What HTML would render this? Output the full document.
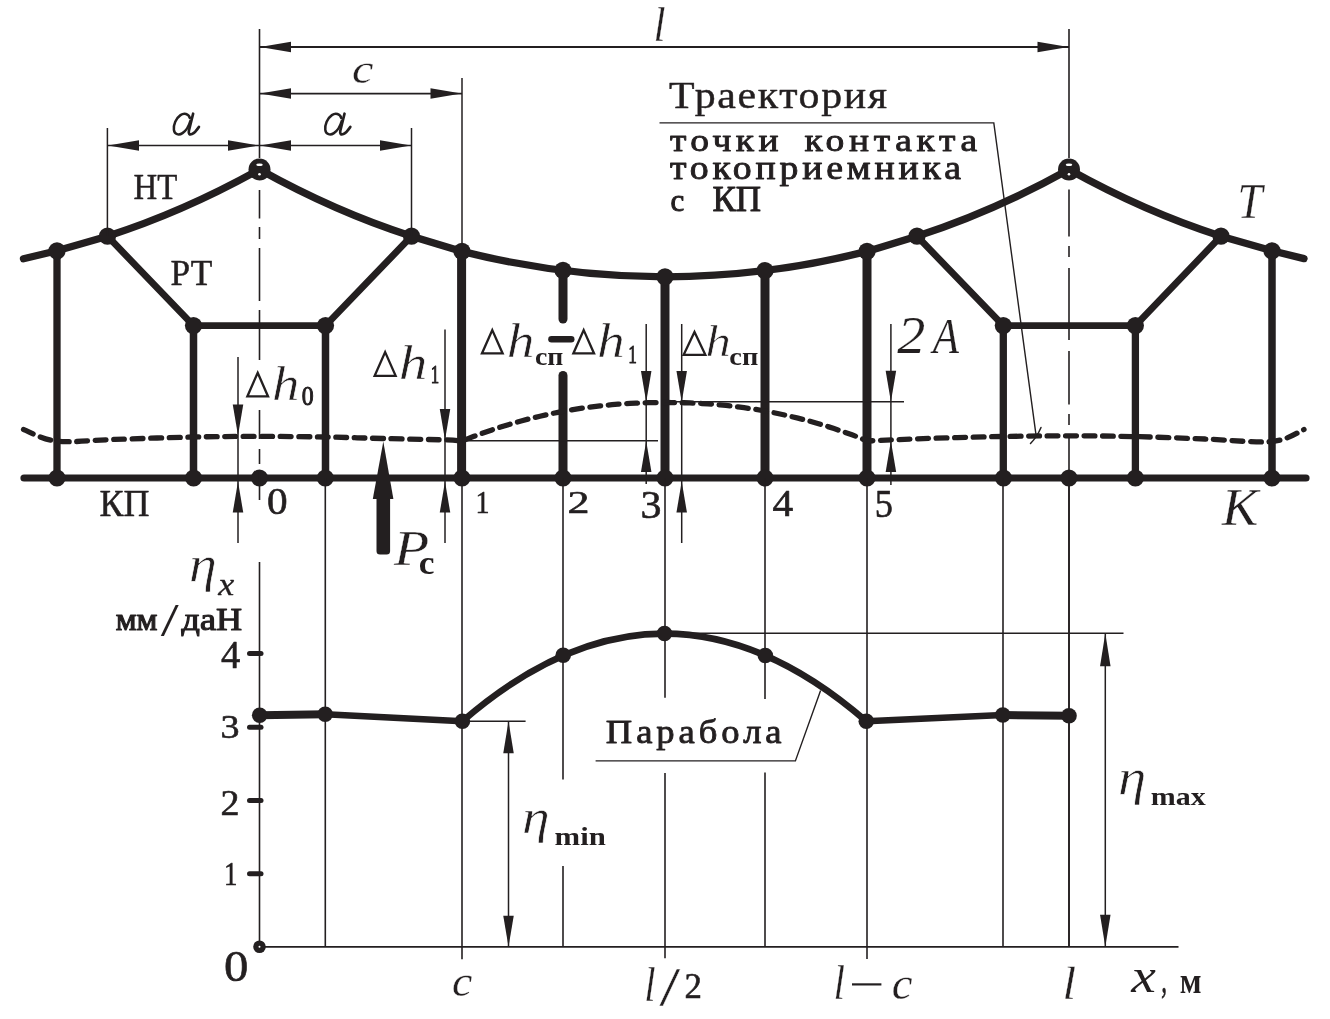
<!DOCTYPE html>
<html><head><meta charset="utf-8"><style>
html,body{margin:0;padding:0;background:#fff;}
svg{display:block;font-family:"Liberation Serif", serif;will-change:transform;}
</style></head><body>
<svg width="1330" height="1019" viewBox="0 0 1330 1019">
<rect width="1330" height="1019" fill="#fff"/>
<g stroke="#231f20" fill="none">
<path d="M23.5,258.8 L57,250.8 L107.5,236.2 Q183.50,211.85 259.5,169.5 Q335.50,211.85 411.5,236.2 L462,251.4 Q665,302.2 867,251.4 L917,236.2 Q993.00,211.85 1069,169.5 Q1145.00,211.85 1221,236.2 L1272,250.8 L1304,258.6" stroke-width="7.3" stroke-linecap="round" stroke-linejoin="round" fill="none"/>
<path d="M107.5,236.2 L193.5,325.6 L325.5,325.6 L411.5,236.2" stroke-width="6.8" stroke-linecap="round" stroke-linejoin="miter" fill="none"/>
<path d="M917,236.2 L1003.3,325.6 L1135.4,325.6 L1221,236.2" stroke-width="6.8" stroke-linecap="round" stroke-linejoin="miter" fill="none"/>
<line x1="57.00" y1="250.80" x2="57.00" y2="478.00" stroke-width="7.3" stroke-linecap="butt"/>
<line x1="193.50" y1="325.00" x2="193.50" y2="478.00" stroke-width="7.5" stroke-linecap="butt"/>
<line x1="325.50" y1="325.00" x2="325.50" y2="478.00" stroke-width="7.5" stroke-linecap="butt"/>
<line x1="461.60" y1="251.40" x2="461.60" y2="478.00" stroke-width="9" stroke-linecap="butt"/>
<line x1="665.00" y1="276.80" x2="665.00" y2="478.00" stroke-width="9" stroke-linecap="butt"/>
<line x1="765.00" y1="270.65" x2="765.00" y2="478.00" stroke-width="9" stroke-linecap="butt"/>
<line x1="867.00" y1="251.40" x2="867.00" y2="478.00" stroke-width="9" stroke-linecap="butt"/>
<line x1="1003.30" y1="325.00" x2="1003.30" y2="478.00" stroke-width="7.3" stroke-linecap="butt"/>
<line x1="1135.40" y1="325.00" x2="1135.40" y2="478.00" stroke-width="7.3" stroke-linecap="butt"/>
<line x1="1272.00" y1="250.80" x2="1272.00" y2="478.00" stroke-width="7.5" stroke-linecap="butt"/>
<line x1="563.00" y1="270.40" x2="563.00" y2="319.00" stroke-width="9" stroke-linecap="round"/>
<line x1="563.00" y1="375.50" x2="563.00" y2="478.00" stroke-width="9" stroke-linecap="round"/>
<line x1="551.50" y1="339.30" x2="571.20" y2="339.30" stroke-width="6.6" stroke-linecap="round"/>
<line x1="24.00" y1="478.00" x2="1306.00" y2="478.00" stroke-width="7.2" stroke-linecap="round"/>
<circle cx="57.00" cy="250.80" r="8.6" fill="#231f20" stroke="none"/>
<circle cx="107.50" cy="236.20" r="8.6" fill="#231f20" stroke="none"/>
<circle cx="411.50" cy="236.20" r="8.6" fill="#231f20" stroke="none"/>
<circle cx="462.00" cy="251.40" r="8.6" fill="#231f20" stroke="none"/>
<circle cx="563.00" cy="270.40" r="8.6" fill="#231f20" stroke="none"/>
<circle cx="665.00" cy="276.80" r="8.6" fill="#231f20" stroke="none"/>
<circle cx="765.00" cy="270.65" r="8.6" fill="#231f20" stroke="none"/>
<circle cx="867.00" cy="251.40" r="8.6" fill="#231f20" stroke="none"/>
<circle cx="917.00" cy="236.20" r="8.6" fill="#231f20" stroke="none"/>
<circle cx="1221.00" cy="236.20" r="8.6" fill="#231f20" stroke="none"/>
<circle cx="1272.00" cy="250.80" r="8.6" fill="#231f20" stroke="none"/>
<circle cx="193.50" cy="325.60" r="8.6" fill="#231f20" stroke="none"/>
<circle cx="325.50" cy="325.60" r="8.6" fill="#231f20" stroke="none"/>
<circle cx="1003.30" cy="325.60" r="8.6" fill="#231f20" stroke="none"/>
<circle cx="1135.40" cy="325.60" r="8.6" fill="#231f20" stroke="none"/>
<circle cx="57.00" cy="478.00" r="8.6" fill="#231f20" stroke="none"/>
<circle cx="193.60" cy="478.00" r="8.6" fill="#231f20" stroke="none"/>
<circle cx="259.50" cy="478.00" r="8.6" fill="#231f20" stroke="none"/>
<circle cx="325.30" cy="478.00" r="8.6" fill="#231f20" stroke="none"/>
<circle cx="462.00" cy="478.00" r="8.6" fill="#231f20" stroke="none"/>
<circle cx="563.00" cy="478.00" r="8.6" fill="#231f20" stroke="none"/>
<circle cx="665.00" cy="478.00" r="8.6" fill="#231f20" stroke="none"/>
<circle cx="765.00" cy="478.00" r="8.6" fill="#231f20" stroke="none"/>
<circle cx="867.00" cy="478.00" r="8.6" fill="#231f20" stroke="none"/>
<circle cx="1003.50" cy="478.00" r="8.6" fill="#231f20" stroke="none"/>
<circle cx="1069.00" cy="478.00" r="8.6" fill="#231f20" stroke="none"/>
<circle cx="1135.40" cy="478.00" r="8.6" fill="#231f20" stroke="none"/>
<circle cx="1272.00" cy="478.00" r="8.6" fill="#231f20" stroke="none"/>
<circle cx="259.50" cy="169.50" r="11" fill="#231f20" stroke="none"/>
<ellipse cx="259.5" cy="164.7" rx="3.2" ry="1.3" fill="#fff" stroke="none"/>
<circle cx="259.5" cy="174.2" r="1.3" fill="#fff" stroke="none"/>
<circle cx="1069.00" cy="169.50" r="11" fill="#231f20" stroke="none"/>
<ellipse cx="1069.0" cy="164.7" rx="3.2" ry="1.3" fill="#fff" stroke="none"/>
<circle cx="1069.0" cy="174.2" r="1.3" fill="#fff" stroke="none"/>
<path d="M23.50,429.50 C29.08,431.45 41.75,439.55 57.00,441.20 C72.25,442.85 92.33,440.10 115.00,439.40 C137.67,438.70 168.92,437.50 193.00,437.00 C217.08,436.50 237.50,436.40 259.50,436.40 C281.50,436.40 304.42,436.65 325.00,437.00 C345.58,437.35 363.00,438.02 383.00,438.50 C403.00,438.98 431.83,439.48 445.00,439.90 C458.17,440.32 459.17,440.82 462.00,441.00 L468.0,438.62 L474.0,436.31 L480.0,434.09 L486.0,431.95 L492.0,429.89 L498.0,427.90 L504.0,426.00 L510.0,424.17 L516.0,422.42 L522.0,420.75 L528.0,419.16 L534.0,417.65 L540.0,416.21 L546.0,414.84 L552.0,413.55 L558.0,412.34 L564.0,411.20 L570.0,410.14 L576.0,409.15 L582.0,408.23 L588.0,407.38 L594.0,406.61 L600.0,405.90 L606.0,405.27 L612.0,404.70 L618.0,404.21 L624.0,403.78 L630.0,403.41 L636.0,403.11 L642.0,402.87 L648.0,402.70 L654.0,402.58 L660.0,402.51 L666.0,402.50 L672.0,402.53 L678.0,402.61 L684.0,402.75 L690.0,402.94 L696.0,403.20 L702.0,403.53 L708.0,403.91 L714.0,404.36 L720.0,404.88 L726.0,405.47 L732.0,406.13 L738.0,406.86 L744.0,407.66 L750.0,408.53 L756.0,409.47 L762.0,410.49 L768.0,411.57 L774.0,412.74 L780.0,413.98 L786.0,415.29 L792.0,416.68 L798.0,418.14 L804.0,419.68 L810.0,421.30 L816.0,423.00 L822.0,424.77 L828.0,426.62 L834.0,428.56 L840.0,430.57 L846.0,432.65 L852.0,434.82 L858.0,437.07 L867.0,441.00  C878.33,440.53 912.33,438.95 935.00,438.20 C957.67,437.45 980.67,436.90 1003.00,436.50 C1025.33,436.10 1047.00,435.78 1069.00,435.80 C1091.00,435.82 1112.33,436.07 1135.00,436.60 C1157.67,437.13 1182.17,438.18 1205.00,439.00 C1227.83,439.82 1255.50,443.08 1272.00,441.50 C1288.50,439.92 1298.67,431.50 1304.00,429.50" stroke-width="5.3" stroke-linecap="round" stroke-linejoin="round" fill="none" stroke-dasharray="10.8 7.7"/>
<line x1="259.50" y1="29.00" x2="259.50" y2="158.00" stroke-width="1.6" stroke-linecap="butt"/>
<line x1="259.50" y1="190.00" x2="259.50" y2="218.50" stroke-width="1.6" stroke-linecap="butt"/>
<line x1="259.50" y1="227.00" x2="259.50" y2="239.00" stroke-width="1.6" stroke-linecap="butt"/>
<line x1="259.50" y1="248.00" x2="259.50" y2="301.00" stroke-width="1.6" stroke-linecap="butt"/>
<line x1="259.50" y1="310.00" x2="259.50" y2="360.00" stroke-width="1.6" stroke-linecap="butt"/>
<line x1="259.50" y1="410.00" x2="259.50" y2="439.00" stroke-width="1.6" stroke-linecap="butt"/>
<line x1="259.50" y1="449.00" x2="259.50" y2="464.00" stroke-width="1.6" stroke-linecap="butt"/>
<line x1="259.50" y1="470.00" x2="259.50" y2="500.00" stroke-width="1.6" stroke-linecap="butt"/>
<line x1="259.50" y1="562.00" x2="259.50" y2="947.00" stroke-width="1.6" stroke-linecap="butt"/>
<line x1="1069.00" y1="29.00" x2="1069.00" y2="158.00" stroke-width="1.6" stroke-linecap="butt"/>
<line x1="1069.00" y1="189.40" x2="1069.00" y2="236.50" stroke-width="1.6" stroke-linecap="butt"/>
<line x1="1069.00" y1="246.00" x2="1069.00" y2="257.00" stroke-width="1.6" stroke-linecap="butt"/>
<line x1="1069.00" y1="268.00" x2="1069.00" y2="340.00" stroke-width="1.6" stroke-linecap="butt"/>
<line x1="1069.00" y1="351.00" x2="1069.00" y2="404.60" stroke-width="1.6" stroke-linecap="butt"/>
<line x1="1069.00" y1="414.00" x2="1069.00" y2="425.00" stroke-width="1.6" stroke-linecap="butt"/>
<line x1="1069.00" y1="434.00" x2="1069.00" y2="947.00" stroke-width="1.6" stroke-linecap="butt"/>
<line x1="462.00" y1="78.00" x2="462.00" y2="251.00" stroke-width="1.5" stroke-linecap="butt"/>
<line x1="107.40" y1="128.00" x2="107.40" y2="236.00" stroke-width="1.5" stroke-linecap="butt"/>
<line x1="411.50" y1="128.00" x2="411.50" y2="236.00" stroke-width="1.5" stroke-linecap="butt"/>
<line x1="259.50" y1="47.00" x2="1069.00" y2="47.00" stroke-width="1.8" stroke-linecap="butt"/>
<polygon points="260.00,47.00 291.00,41.75 291.00,52.25" fill="#231f20" stroke="none"/>
<polygon points="1068.50,47.00 1037.50,41.75 1037.50,52.25" fill="#231f20" stroke="none"/>
<line x1="259.50" y1="93.60" x2="462.00" y2="93.60" stroke-width="1.8" stroke-linecap="butt"/>
<polygon points="260.00,93.60 291.00,88.35 291.00,98.85" fill="#231f20" stroke="none"/>
<polygon points="461.50,93.60 430.50,88.35 430.50,98.85" fill="#231f20" stroke="none"/>
<line x1="107.40" y1="145.50" x2="411.50" y2="145.50" stroke-width="1.6" stroke-linecap="butt"/>
<polygon points="108.00,145.50 139.00,140.25 139.00,150.75" fill="#231f20" stroke="none"/>
<polygon points="259.00,145.50 228.00,140.25 228.00,150.75" fill="#231f20" stroke="none"/>
<polygon points="260.00,145.50 291.00,140.25 291.00,150.75" fill="#231f20" stroke="none"/>
<polygon points="411.00,145.50 380.00,140.25 380.00,150.75" fill="#231f20" stroke="none"/>
<line x1="238.00" y1="357.00" x2="238.00" y2="543.00" stroke-width="1.5" stroke-linecap="butt"/>
<polygon points="238.00,435.50 232.75,404.50 243.25,404.50" fill="#231f20" stroke="none"/>
<polygon points="238.00,481.50 232.75,512.50 243.25,512.50" fill="#231f20" stroke="none"/>
<line x1="445.00" y1="329.50" x2="445.00" y2="543.00" stroke-width="1.5" stroke-linecap="butt"/>
<polygon points="445.00,440.00 439.75,409.00 450.25,409.00" fill="#231f20" stroke="none"/>
<polygon points="445.00,481.50 439.75,512.50 450.25,512.50" fill="#231f20" stroke="none"/>
<line x1="646.20" y1="324.00" x2="646.20" y2="484.00" stroke-width="1.5" stroke-linecap="butt"/>
<polygon points="646.20,402.00 640.95,371.00 651.45,371.00" fill="#231f20" stroke="none"/>
<polygon points="646.20,441.00 640.95,472.00 651.45,472.00" fill="#231f20" stroke="none"/>
<line x1="681.70" y1="324.00" x2="681.70" y2="543.00" stroke-width="1.5" stroke-linecap="butt"/>
<polygon points="681.70,402.00 676.45,371.00 686.95,371.00" fill="#231f20" stroke="none"/>
<polygon points="681.70,481.50 676.45,512.50 686.95,512.50" fill="#231f20" stroke="none"/>
<line x1="890.90" y1="324.00" x2="890.90" y2="485.00" stroke-width="1.5" stroke-linecap="butt"/>
<polygon points="890.90,401.70 885.65,370.70 896.15,370.70" fill="#231f20" stroke="none"/>
<polygon points="890.90,441.00 885.65,472.00 896.15,472.00" fill="#231f20" stroke="none"/>
<line x1="462.00" y1="440.70" x2="658.00" y2="440.70" stroke-width="1.5" stroke-linecap="butt"/>
<line x1="665.00" y1="401.70" x2="904.00" y2="401.70" stroke-width="1.5" stroke-linecap="butt"/>
<rect x="376.5" y="496" width="13.6" height="58.5" rx="3.5" fill="#231f20" stroke="none"/>
<polygon points="383.3,441.4 372.8,499 393.4,499" fill="#231f20" stroke="none"/>
<path d="M659.5,122.9 L993.8,122.9 L1036,434.8" stroke-width="1.4" stroke-linecap="butt" stroke-linejoin="miter" fill="none"/>
<path d="M1030.5,443.5 Q1037,437 1041,427.5" stroke-width="1.5" stroke-linecap="round" stroke-linejoin="round" fill="none"/>
<path d="M595.6,760.9 L795.4,760.9 L820.6,690.6" stroke-width="1.4" stroke-linecap="butt" stroke-linejoin="miter" fill="none"/>
<line x1="259.50" y1="946.80" x2="1178.50" y2="946.80" stroke-width="1.8" stroke-linecap="butt"/>
<line x1="249.50" y1="653.60" x2="261.00" y2="653.60" stroke-width="5" stroke-linecap="round"/>
<line x1="249.50" y1="727.20" x2="261.00" y2="727.20" stroke-width="5" stroke-linecap="round"/>
<line x1="249.50" y1="800.50" x2="261.00" y2="800.50" stroke-width="5" stroke-linecap="round"/>
<line x1="249.50" y1="873.80" x2="261.00" y2="873.80" stroke-width="5" stroke-linecap="round"/>
<line x1="325.30" y1="478.00" x2="325.30" y2="946.80" stroke-width="1.6" stroke-linecap="butt"/>
<line x1="462.00" y1="478.00" x2="462.00" y2="959.30" stroke-width="1.6" stroke-linecap="butt"/>
<line x1="563.00" y1="478.00" x2="563.00" y2="779.60" stroke-width="1.6" stroke-linecap="butt"/>
<line x1="563.00" y1="866.00" x2="563.00" y2="946.80" stroke-width="1.6" stroke-linecap="butt"/>
<line x1="665.00" y1="478.00" x2="665.00" y2="697.70" stroke-width="1.6" stroke-linecap="butt"/>
<line x1="665.00" y1="773.00" x2="665.00" y2="958.20" stroke-width="1.6" stroke-linecap="butt"/>
<line x1="765.00" y1="478.00" x2="765.00" y2="699.00" stroke-width="1.6" stroke-linecap="butt"/>
<line x1="765.00" y1="772.40" x2="765.00" y2="946.80" stroke-width="1.6" stroke-linecap="butt"/>
<line x1="867.00" y1="478.00" x2="867.00" y2="959.00" stroke-width="1.6" stroke-linecap="butt"/>
<line x1="1003.00" y1="478.00" x2="1003.00" y2="946.80" stroke-width="1.6" stroke-linecap="butt"/>
<line x1="1069.00" y1="478.00" x2="1069.00" y2="946.80" stroke-width="1.6" stroke-linecap="butt"/>
<line x1="462.00" y1="721.20" x2="525.60" y2="721.20" stroke-width="1.5" stroke-linecap="butt"/>
<line x1="508.50" y1="721.20" x2="508.50" y2="946.80" stroke-width="1.5" stroke-linecap="butt"/>
<polygon points="508.50,721.20 503.25,753.20 513.75,753.20" fill="#231f20" stroke="none"/>
<polygon points="508.50,946.80 503.25,915.80 513.75,915.80" fill="#231f20" stroke="none"/>
<line x1="665.00" y1="633.30" x2="1123.50" y2="633.30" stroke-width="1.5" stroke-linecap="butt"/>
<line x1="1105.30" y1="633.30" x2="1105.30" y2="946.80" stroke-width="1.5" stroke-linecap="butt"/>
<polygon points="1105.30,633.30 1100.05,666.30 1110.55,666.30" fill="#231f20" stroke="none"/>
<polygon points="1105.30,946.80 1100.05,914.80 1110.55,914.80" fill="#231f20" stroke="none"/>
<path d="M259.7,715.3 L325.2,714.3" stroke-width="8" stroke-linecap="butt" stroke-linejoin="round" fill="none"/>
<path d="M325.2,714.3 L462.4,721.2 Q664.5,546 866.3,721.2 L1002.8,715" stroke-width="6.5" stroke-linecap="round" stroke-linejoin="round" fill="none"/>
<path d="M1002.8,715 L1069,715.7" stroke-width="8" stroke-linecap="butt" stroke-linejoin="round" fill="none"/>
<circle cx="259.70" cy="715.30" r="7.8" fill="#231f20" stroke="none"/>
<circle cx="325.20" cy="714.30" r="7.8" fill="#231f20" stroke="none"/>
<circle cx="462.40" cy="721.20" r="7.8" fill="#231f20" stroke="none"/>
<circle cx="563.20" cy="655.30" r="7.8" fill="#231f20" stroke="none"/>
<circle cx="664.50" cy="633.50" r="7.8" fill="#231f20" stroke="none"/>
<circle cx="765.30" cy="655.50" r="7.8" fill="#231f20" stroke="none"/>
<circle cx="866.30" cy="721.20" r="7.8" fill="#231f20" stroke="none"/>
<circle cx="1002.80" cy="715.00" r="7.8" fill="#231f20" stroke="none"/>
<circle cx="1069.00" cy="715.70" r="7.8" fill="#231f20" stroke="none"/>
<circle cx="259.50" cy="946.80" r="6.3" fill="#231f20" stroke="none"/>
<circle cx="259.5" cy="946.8" r="1.0" fill="#fff" stroke="none"/>
</g>
<g fill="#231f20" stroke="none">
<text transform="translate(653.50 41.00) scale(0.8918 1)" font-size="48.49" font-style="italic" stroke="#fff" stroke-width="0.30" stroke-linejoin="round">l</text>
<text transform="translate(352.00 83.07) scale(1.1258 1)" font-size="42.92" font-style="italic" stroke="#fff" stroke-width="0.30" stroke-linejoin="round">c</text>
<text transform="translate(133.50 199.30) scale(0.9064 1)" font-size="36.18" stroke="#231f20" stroke-width="0.50" stroke-linejoin="round">НТ</text>
<text transform="translate(170.60 284.50) scale(0.9743 1)" font-size="36.18" stroke="#231f20" stroke-width="0.50" stroke-linejoin="round">РТ</text>
<text transform="translate(99.50 516.30) scale(0.9736 1)" font-size="36.95" stroke="#231f20" stroke-width="0.50" stroke-linejoin="round">КП</text>
<text transform="translate(1237.50 218.40) scale(0.8745 1)" font-size="51.30" font-style="italic" stroke="#fff" stroke-width="0.30" stroke-linejoin="round">T</text>
<text transform="translate(1221.88 524.60) scale(1.0483 1)" font-size="51.76" font-style="italic" stroke="#fff" stroke-width="0.30" stroke-linejoin="round">K</text>
<text transform="translate(669.00 108.10) scale(1.1000 1)" font-size="38.02" letter-spacing="1.53" stroke="#231f20" stroke-width="0.45" stroke-linejoin="round">Траектория</text>
<text transform="translate(669.90 150.50) scale(1.1500 1)" font-size="32.61" letter-spacing="3.86" stroke="#231f20" stroke-width="0.87" stroke-linejoin="round">точки</text>
<text transform="translate(804.50 150.50) scale(1.1500 1)" font-size="32.61" letter-spacing="4.07" stroke="#231f20" stroke-width="0.87" stroke-linejoin="round">контакта</text>
<text transform="translate(669.90 179.10) scale(1.1500 1)" font-size="32.83" letter-spacing="3.34" stroke="#231f20" stroke-width="0.87" stroke-linejoin="round">токоприемника</text>
<text transform="translate(670.50 210.99) scale(0.9858 1)" font-size="31.46" stroke="#231f20" stroke-width="1.00" stroke-linejoin="round">с</text>
<text transform="translate(712.50 211.30) scale(0.9642 1)" font-size="36.34" stroke="#231f20" stroke-width="1.00" stroke-linejoin="round">КП</text>
<text transform="translate(266.90 514.11) scale(1.0696 1)" font-size="38.52" stroke="#231f20" stroke-width="0.60" stroke-linejoin="round">0</text>
<text transform="translate(475.50 512.50) scale(0.8595 1)" font-size="32.58" stroke="#231f20" stroke-width="0.60" stroke-linejoin="round">1</text>
<text transform="translate(567.50 512.50) scale(1.3558 1)" font-size="32.45" stroke="#231f20" stroke-width="0.60" stroke-linejoin="round">2</text>
<text transform="translate(640.50 517.80) scale(1.0384 1)" font-size="40.45" stroke="#231f20" stroke-width="0.60" stroke-linejoin="round">3</text>
<text transform="translate(772.50 515.50) scale(1.1110 1)" font-size="37.26" stroke="#231f20" stroke-width="0.60" stroke-linejoin="round">4</text>
<text transform="translate(874.70 517.10) scale(0.9134 1)" font-size="39.85" stroke="#231f20" stroke-width="0.60" stroke-linejoin="round">5</text>
<text transform="translate(272.00 399.50) scale(1.1410 1)" font-size="48.20" font-style="italic" stroke="#fff" stroke-width="0.60" stroke-linejoin="round">h</text>
<text transform="translate(301.80 404.63) scale(0.8975 1)" font-size="26.52" stroke="#231f20" stroke-width="1.00" stroke-linejoin="round">0</text>
<text transform="translate(398.80 379.10) scale(1.1631 1)" font-size="49.35" font-style="italic" stroke="#fff" stroke-width="0.60" stroke-linejoin="round">h</text>
<text transform="translate(430.80 383.30) scale(0.6600 1)" font-size="25.45" stroke="#231f20" stroke-width="1.00" stroke-linejoin="round">1</text>
<text transform="translate(506.80 356.70) scale(1.1535 1)" font-size="48.20" font-style="italic" stroke="#fff" stroke-width="0.60" stroke-linejoin="round">h</text>
<text transform="translate(535.00 364.75) scale(1.1326 1)" font-size="24.58" font-weight="bold">сп</text>
<text transform="translate(597.00 356.70) scale(1.1604 1)" font-size="47.91" font-style="italic" stroke="#fff" stroke-width="0.60" stroke-linejoin="round">h</text>
<text transform="translate(628.30 362.50) scale(0.6678 1)" font-size="25.76" stroke="#231f20" stroke-width="1.00" stroke-linejoin="round">1</text>
<text transform="translate(705.50 355.50) scale(1.1691 1)" font-size="43.45" font-style="italic" stroke="#fff" stroke-width="0.60" stroke-linejoin="round">h</text>
<text transform="translate(729.30 365.35) scale(1.1565 1)" font-size="24.58" font-weight="bold">сп</text>
<text transform="translate(897.30 352.80) scale(1.0668 1)" font-size="52.68" font-style="italic" stroke="#fff" stroke-width="0.20" stroke-linejoin="round">2</text>
<text transform="translate(932.86 352.50) scale(0.8369 1)" font-size="51.36" font-style="italic" stroke="#fff" stroke-width="0.20" stroke-linejoin="round">A</text>
<text transform="translate(394.03 564.90) scale(1.1308 1)" font-size="50.84" font-style="italic" stroke="#fff" stroke-width="0.30" stroke-linejoin="round">P</text>
<text transform="translate(418.70 574.37) scale(1.0855 1)" font-size="32.71" font-weight="bold">c</text>
<text transform="translate(189.00 581.31) scale(1.1233 1)" font-size="49.82" font-style="italic" stroke="#fff" stroke-width="0.60" stroke-linejoin="round">η</text>
<text transform="translate(218.15 595.20) scale(1.1683 1)" font-size="30.87" font-style="italic" stroke="#231f20" stroke-width="0.30" stroke-linejoin="round">x</text>
<text transform="translate(115.70 630.20) scale(1.0704 1)" font-size="30.87" stroke="#231f20" stroke-width="1.10" stroke-linejoin="round">мм</text>
<text transform="translate(160.80 635.94) scale(1.4154 1)" font-size="45.67">/</text>
<text transform="translate(181.60 630.20) scale(1.1597 1)" font-size="31.15" stroke="#231f20" stroke-width="1.10" stroke-linejoin="round">даН</text>
<text transform="translate(221.00 668.40) scale(0.9724 1)" font-size="39.70" stroke="#231f20" stroke-width="0.60" stroke-linejoin="round">4</text>
<text transform="translate(220.50 738.06) scale(1.1308 1)" font-size="33.61" stroke="#231f20" stroke-width="0.60" stroke-linejoin="round">3</text>
<text transform="translate(220.50 814.50) scale(1.0360 1)" font-size="36.68" stroke="#231f20" stroke-width="0.60" stroke-linejoin="round">2</text>
<text transform="translate(224.10 885.30) scale(0.7758 1)" font-size="34.55" stroke="#231f20" stroke-width="0.60" stroke-linejoin="round">1</text>
<text transform="translate(224.10 981.06) scale(1.0980 1)" font-size="44.44" stroke="#231f20" stroke-width="0.60" stroke-linejoin="round">0</text>
<text transform="translate(605.80 743.00) scale(1.1000 1)" font-size="33.28" letter-spacing="3.59" stroke="#231f20" stroke-width="0.82" stroke-linejoin="round">Парабола</text>
<text transform="translate(521.90 833.44) scale(1.1326 1)" font-size="49.23" font-style="italic" stroke="#fff" stroke-width="0.60" stroke-linejoin="round">η</text>
<text transform="translate(554.60 845.00) scale(1.2254 1)" font-size="25.11" font-weight="bold">min</text>
<text transform="translate(1118.00 793.88) scale(1.1402 1)" font-size="49.96" font-style="italic" stroke="#fff" stroke-width="0.60" stroke-linejoin="round">η</text>
<text transform="translate(1150.80 805.04) scale(1.1618 1)" font-size="25.83" font-weight="bold">max</text>
<text transform="translate(452.10 995.55) scale(1.0235 1)" font-size="44.79" font-style="italic" stroke="#fff" stroke-width="0.30" stroke-linejoin="round">c</text>
<text transform="translate(644.20 1001.30) scale(0.8423 1)" font-size="48.35" font-style="italic" stroke="#fff" stroke-width="0.30" stroke-linejoin="round">l</text>
<text transform="translate(659.30 1005.26) scale(1.3975 1)" font-size="54.18" stroke="#fff" stroke-width="0.30" stroke-linejoin="round">/</text>
<text transform="translate(684.50 998.00) scale(0.9728 1)" font-size="35.77" stroke="#231f20" stroke-width="0.60" stroke-linejoin="round">2</text>
<text transform="translate(833.40 999.00) scale(0.8497 1)" font-size="48.35" font-style="italic" stroke="#fff" stroke-width="0.30" stroke-linejoin="round">l</text>
<text transform="translate(891.70 998.53) scale(0.9884 1)" font-size="47.29" font-style="italic" stroke="#fff" stroke-width="0.30" stroke-linejoin="round">c</text>
<text transform="translate(1062.40 999.00) scale(1.0277 1)" font-size="47.34" font-style="italic" stroke="#fff" stroke-width="0.30" stroke-linejoin="round">l</text>
<text transform="translate(1131.19 991.60) scale(1.1351 1)" font-size="48.91" font-style="italic">x</text>
<text transform="translate(1161.20 991.56) scale(0.5857 1)" font-size="39.61" font-style="italic" stroke="#231f20" stroke-width="0.60" stroke-linejoin="round">,</text>
<text transform="translate(1179.80 992.70) scale(0.8938 1)" font-size="35.87" font-weight="bold">м</text>
</g>
<g transform="translate(171.3 111.5)" fill="none" stroke="#231f20" stroke-linecap="round" stroke-linejoin="round">
<path d="M18.6,6.5 C17.2,2.2 12.8,1.2 9.2,3.6 C4.6,6.8 2,13.2 2.6,18.4 C3.2,23 7.6,24 11.2,21.6 C14.8,19.2 17.6,14.6 19,9.5" stroke-width="2.5"/>
<path d="M21.8,2.2 L17.6,19.2 C17,22.4 18.4,23.6 20.6,22.6 C23.4,21.2 25.8,18.2 27.6,15.4" stroke-width="2.7"/>
</g>
<g transform="translate(322.7 111.5)" fill="none" stroke="#231f20" stroke-linecap="round" stroke-linejoin="round">
<path d="M18.6,6.5 C17.2,2.2 12.8,1.2 9.2,3.6 C4.6,6.8 2,13.2 2.6,18.4 C3.2,23 7.6,24 11.2,21.6 C14.8,19.2 17.6,14.6 19,9.5" stroke-width="2.5"/>
<path d="M21.8,2.2 L17.6,19.2 C17,22.4 18.4,23.6 20.6,22.6 C23.4,21.2 25.8,18.2 27.6,15.4" stroke-width="2.7"/>
</g>
<g stroke="#231f20" fill="none">
<polygon points="257.70,372.75 268.05,396.45 247.35,396.45" fill="none" stroke-width="2.3" stroke-linejoin="miter"/>
<polygon points="385.15,352.15 395.65,375.85 374.65,375.85" fill="none" stroke-width="2.3" stroke-linejoin="miter"/>
<polygon points="492.30,330.15 502.65,353.45 481.95,353.45" fill="none" stroke-width="2.3" stroke-linejoin="miter"/>
<polygon points="583.70,330.15 594.05,353.45 573.35,353.45" fill="none" stroke-width="2.3" stroke-linejoin="miter"/>
<polygon points="694.50,331.95 705.35,354.85 683.65,354.85" fill="none" stroke-width="2.3" stroke-linejoin="miter"/>
<line x1="852.00" y1="984.40" x2="881.40" y2="984.40" stroke-width="2.2" stroke-linecap="butt"/>
</g>
</svg>
</body></html>
